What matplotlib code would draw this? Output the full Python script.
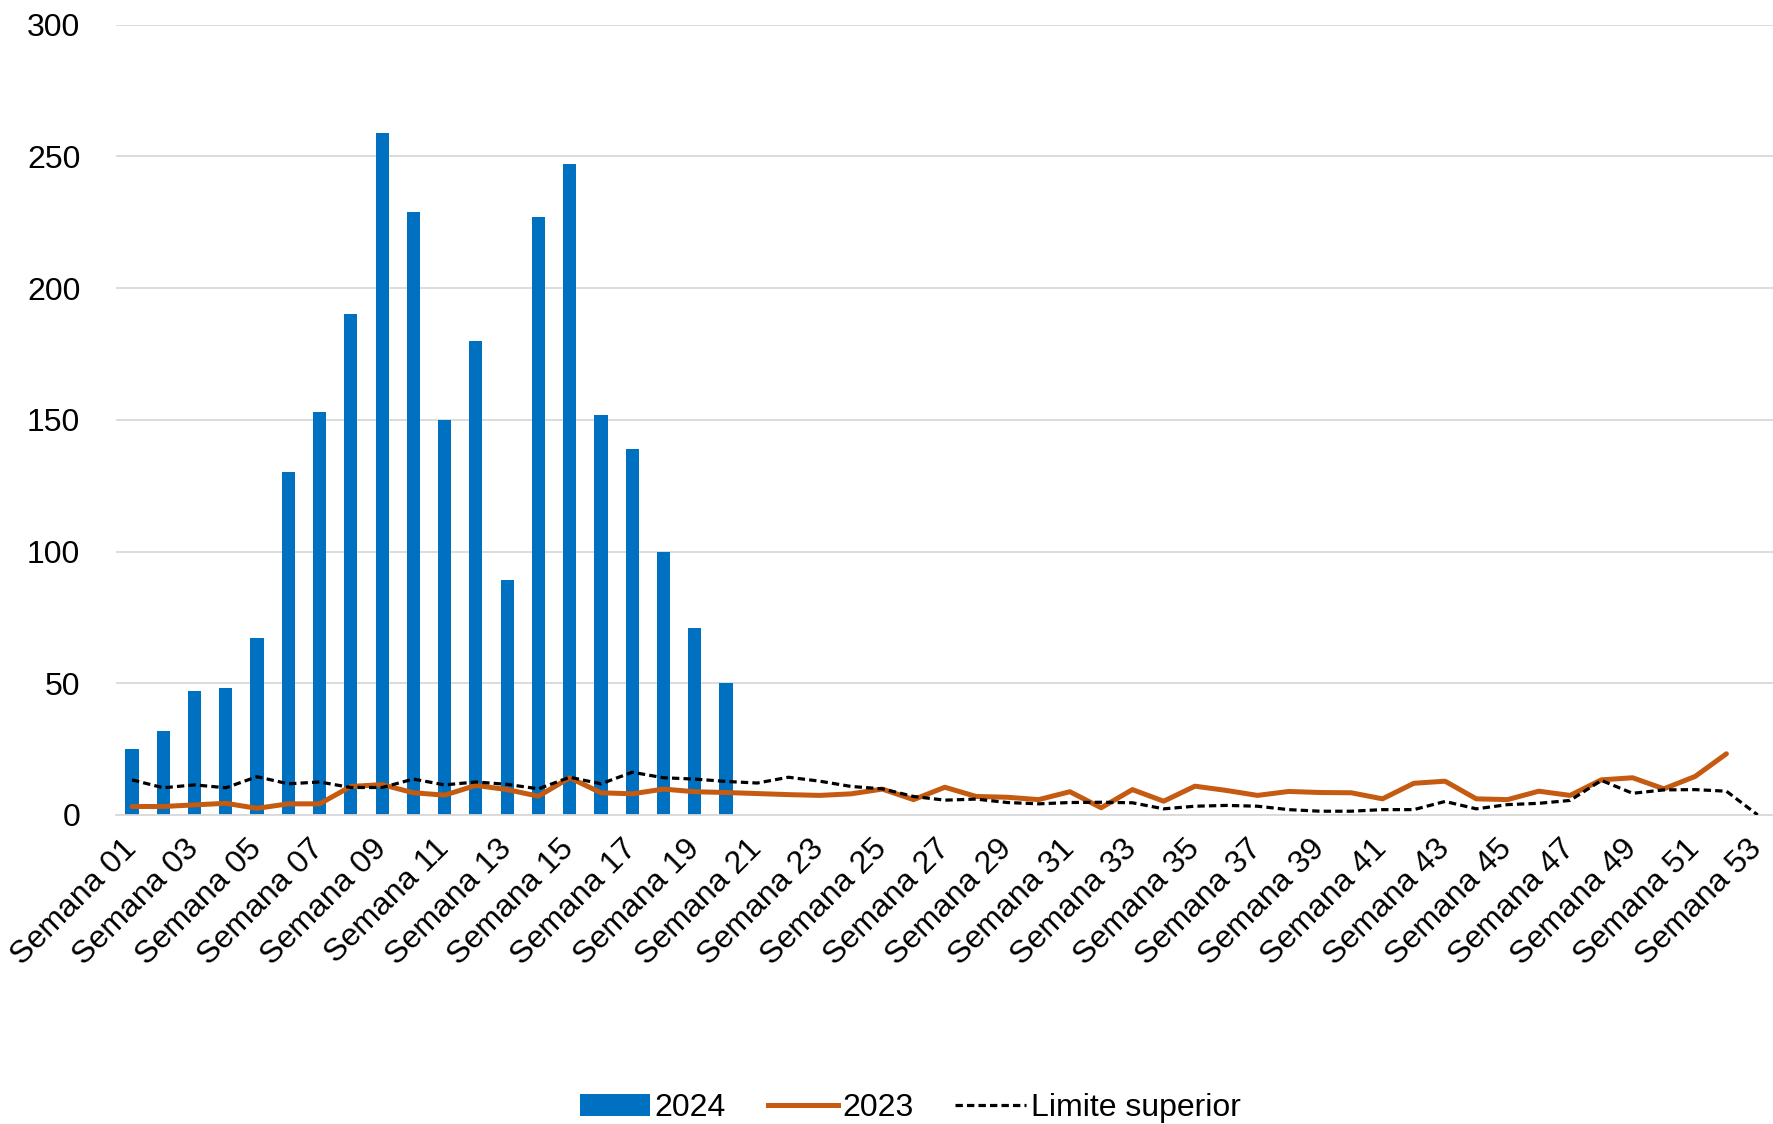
import matplotlib
matplotlib.use("Agg")
import matplotlib.pyplot as plt
import numpy as np
from matplotlib.patches import Patch
from matplotlib.lines import Line2D

plt.rcParams['font.family'] = ['Liberation Sans', 'DejaVu Sans']

weeks = [f"Semana {i:02d}" for i in range(1, 54)]

casos_2024 = [25, 32, 47, 48, 67, 130, 153, 190, 259, 229, 150, 180, 89, 227, 247,
              152, 139, 100, 71, 50]

casos_2023 = [3.2, 3.2, 3.8, 4.4, 2.5, 4.2, 4.2, 10.8, 11.5, 8.4, 7.5, 11.2, 9.6, 7.1, 14.1,
              8.4, 8.0, 9.8, 8.8, 8.5, 8.1, 7.7, 7.4, 8.0, 9.8, 5.8, 10.5, 7.0, 6.7, 5.8,
              8.8, 2.7, 9.6, 5.2, 10.9, 9.3, 7.4, 8.9, 8.5, 8.4, 6.1, 12.0, 12.8, 6.1, 5.8,
              9.0, 7.4, 13.3, 14.1, 9.9, 14.6, 23.2]

limite_superior = [13.3, 10.3, 11.4, 10.3, 14.5, 11.8, 12.5, 10.4, 10.4, 13.6, 11.4, 12.5,
                   11.6, 9.9, 14.3, 11.8, 16.2, 14.1, 13.6, 12.7, 12.1, 14.3, 12.8, 10.8,
                   9.9, 7.0, 5.6, 6.0, 4.7, 4.2, 4.7, 4.8, 4.6, 2.3, 3.3, 3.6, 3.3, 2.0,
                   1.4, 1.4, 2.0, 2.0, 5.1, 2.3, 3.9, 4.4, 5.5, 13.1, 8.2, 9.5, 9.6, 9.0, 0.0]

x = np.arange(len(weeks))

fig = plt.figure(figsize=(17.74, 11.24), dpi=100)
ax = fig.add_axes([0.0656, 0.275, 0.934, 0.703])

blue = '#0070C0'
orange = '#C55A11'
FS = 23

ax.bar(x[:len(casos_2024)], casos_2024, width=0.42, color=blue, zorder=2)
ax.plot(x[:len(casos_2023)], casos_2023, color=orange, lw=3.6, zorder=3,
        solid_joinstyle='round', solid_capstyle='round')
ax.plot(x[:len(limite_superior)], limite_superior, color='black', lw=2.3,
        linestyle=(0, (2.3, 1.3)), zorder=4)

ax.set_xlim(-0.5, len(weeks) - 0.5)
ax.set_ylim(0, 300)
ax.set_yticks(np.arange(0, 301, 50))
ax.yaxis.grid(True, color='#D9D9D9', lw=1.3, zorder=0)
ax.set_axisbelow(True)
for s in ['top', 'right', 'left']:
    ax.spines[s].set_visible(False)
ax.spines['bottom'].set_color('#D9D9D9')
ax.spines['bottom'].set_linewidth(1.3)
ax.tick_params(axis='both', length=0, labelsize=FS)
ax.tick_params(axis='y', pad=26)
ax.tick_params(axis='x', pad=21)

ax.set_xticks(x[::2])
ax.set_xticklabels(weeks[::2], rotation=45, ha='right', va='center',
                   rotation_mode='anchor')

handles = [Patch(facecolor=blue, edgecolor='none'),
           Line2D([0], [0], color=orange, lw=3.6),
           Line2D([0], [0], color='black', lw=2.3, linestyle=(0, (2.3, 1.3)))]
fig.legend(handles, ['2024', '2023', 'Limite superior'], loc='lower center',
           bbox_to_anchor=(0.513, -0.025), ncol=3, frameon=False, fontsize=FS,
           handlelength=2.2, handletextpad=0.15, columnspacing=1.3, handleheight=0.7)

fig.savefig('out.png', dpi=100)
